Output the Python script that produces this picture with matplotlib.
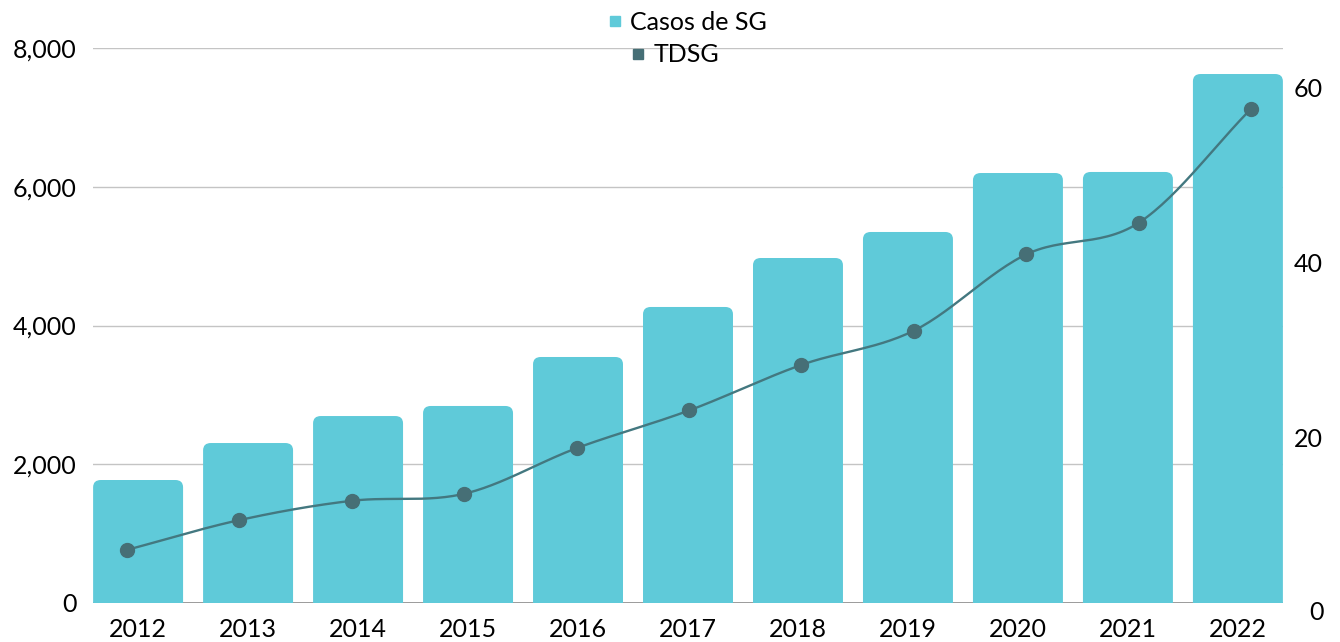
import matplotlib.pyplot as plt
import numpy as np
from matplotlib.lines import Line2D
from matplotlib.patches import FancyBboxPatch

years = ['2012', '2013', '2014', '2015', '2016', '2017', '2018', '2019', '2020', '2021', '2022']
casos_sg = [1773, 2306, 2695, 2840, 3546, 4267, 4973, 5348, 6198, 6213, 7625]
tdsg = [7.2, 10.6, 12.8, 13.6, 18.8, 23.1, 28.3, 32.2, 40.9, 44.5, 57.5]

BAR_COLOR = '#5fcad9'
LINE_COLOR = '#437880'
MARKER_COLOR = '#466f76'


def smooth(x, y, steps=30):
    # catmull-rom curve through the points, like a smoothed office line
    x = np.asarray(x, float)
    y = np.asarray(y, float)
    px = np.concatenate([[2 * x[0] - x[1]], x, [2 * x[-1] - x[-2]]])
    py = np.concatenate([[2 * y[0] - y[1]], y, [2 * y[-1] - y[-2]]])
    xs, ys = [], []
    t = np.linspace(0, 1, steps)
    for i in range(1, len(px) - 2):
        for p, out in ((px, xs), (py, ys)):
            p0, p1, p2, p3 = p[i - 1], p[i], p[i + 1], p[i + 2]
            out.extend(0.5 * ((2 * p1) + (-p0 + p2) * t
                              + (2 * p0 - 5 * p1 + 4 * p2 - p3) * t ** 2
                              + (-p0 + 3 * p1 - 3 * p2 + p3) * t ** 3))
    return np.array(xs), np.array(ys)


plt.rcParams['font.family'] = ['Lato', 'DejaVu Sans']

fig = plt.figure(figsize=(13.4, 6.42), dpi=100)
rect_pos = [93 / 1340, 1 - 603 / 642, 1190 / 1340, 555 / 642]
ax = fig.add_axes(rect_pos)
# secondary axes with its own category spacing for the line
ax2 = fig.add_axes(rect_pos)
ax2.patch.set_visible(False)

ind = np.arange(len(years))
width = 0.818

# bars with slightly rounded tops
rects = ax.bar(ind, casos_sg, width, color=BAR_COLOR, zorder=2)
for rect in rects:
    rect.set_visible(False)
    patch = FancyBboxPatch((rect.get_x(), -300), rect.get_width(), rect.get_height() + 300,
                           boxstyle='round,pad=0,rounding_size=0.07',
                           mutation_aspect=1500,
                           facecolor=BAR_COLOR, edgecolor='none', zorder=2)
    ax.add_patch(patch)

ax.set_xlim(-0.41, len(years) - 1 + 0.41)
ax.set_ylim(0, 8000)
ax.set_yticks([0, 2000, 4000, 6000, 8000])
ax.set_yticklabels(['{:,}'.format(v) for v in [0, 2000, 4000, 6000, 8000]])
ax.set_xticks(ind)
ax.set_xticklabels(years)
ax.grid(axis='y', color='#c4c4c4', linewidth=1, zorder=0)
ax.set_axisbelow(True)
ax.axhline(0, color='#8c8c8c', linewidth=1.2, zorder=1)

# smoothed rate line on the right axis
sx, sy = smooth(ind, tdsg)
ax2.plot(sx, sy, color=LINE_COLOR, linewidth=1.7, zorder=3)
ax2.plot(ind, tdsg, 'o', color=MARKER_COLOR, markersize=10, zorder=4)
ax2.set_xlim(-0.3025, 10.285)
ax2.set_ylim(1.14, 64.45)
ax2.xaxis.set_visible(False)
ax2.yaxis.tick_right()
ax2.set_yticks([20, 40, 60])
# zero label sits just below the plot area
ax2.text(1 + 26 / 1190, 0, '0', transform=ax2.get_yaxis_transform(), ha='left', va='center',
         fontsize=18, clip_on=False)

for a in (ax, ax2):
    for s in a.spines.values():
        s.set_visible(False)
    a.tick_params(length=0, labelsize=18, colors='black')
ax.tick_params(axis='y', pad=12)
ax.tick_params(axis='x', pad=11)
ax2.tick_params(axis='y', pad=8)

# legend, one entry per row
h1 = [Line2D([], [], marker='s', linestyle='none', color=BAR_COLOR, markersize=7)]
h2 = [Line2D([], [], marker='s', linestyle='none', color=MARKER_COLOR, markersize=7)]
fig.legend(h1, ['Casos de SG'], loc='center', bbox_to_anchor=(687 / 1340, 1 - 22 / 642),
           frameon=False, fontsize=18, handlelength=0.6, handletextpad=0.3,
           borderpad=0, borderaxespad=0)
fig.legend(h2, ['TDSG'], loc='center', bbox_to_anchor=(675 / 1340, 1 - 55 / 642),
           frameon=False, fontsize=18, handlelength=0.6, handletextpad=0.3,
           borderpad=0, borderaxespad=0)

fig.savefig('out.png', dpi=100)
